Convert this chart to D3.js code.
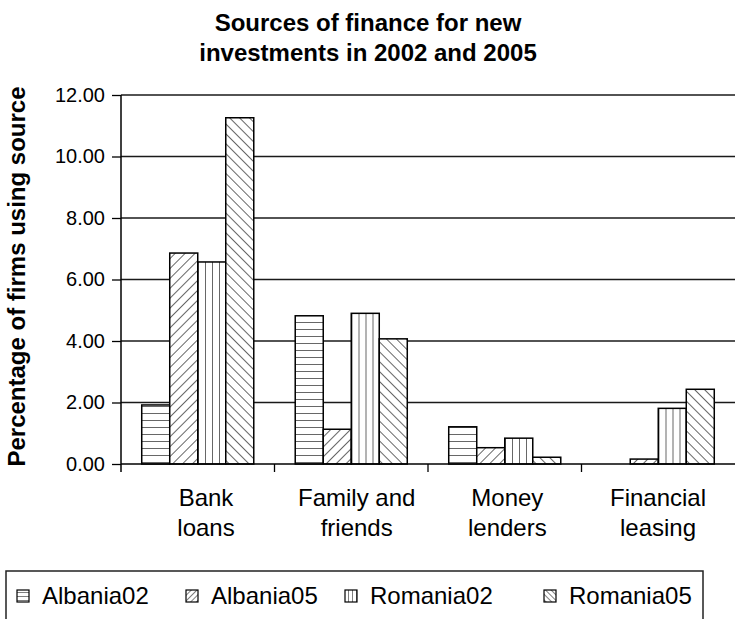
<!DOCTYPE html>
<html>
<head>
<meta charset="utf-8">
<script src="https://cdn.jsdelivr.net/npm/d3@7"></script>
<style>
  html, body { margin: 0; padding: 0; background: #fff; }
  svg { display: block; }
  text { font-family: "Liberation Sans", Arial, sans-serif; fill: #000; }
</style>
</head>
<body>
<div id="chart"></div>
<script>
// Share of firms using each source of finance (%)
const categories = [["Bank", "loans"], ["Family and", "friends"], ["Money", "lenders"], ["Financial", "leasing"]];
const seriesNames = ["Albania02", "Albania05", "Romania02", "Romania05"];
const albania02 = [1.92, 4.82, 1.21, 0.00];
const albania05 = [6.86, 1.13, 0.53, 0.16];
const romania02 = [6.57, 4.90, 0.84, 1.81];
const romania05 = [11.26, 4.07, 0.22, 2.43];
const yTicks = [0, 2, 4, 6, 8, 10, 12];

const seriesValues = [albania02, albania05, romania02, romania05];
const W = 735, H = 619;
const margin = { left: 121, right: 0, top: 95, bottom: 155 };
const plotBottom = H - margin.bottom; // 464

const svg = d3.select("#chart").append("svg").attr("width", W).attr("height", H);

// Hatch patterns, one per series (plus tighter ones for the legend keys)
const defs = svg.append("defs");
function hatch(id, angle, gap, sw) {
  const p = defs.append("pattern")
    .attr("id", id)
    .attr("patternUnits", "userSpaceOnUse")
    .attr("width", gap).attr("height", gap)
    .attr("patternTransform", `rotate(${angle})`);
  p.append("rect").attr("width", gap).attr("height", gap).attr("fill", "#fff");
  p.append("line").attr("x1", 0).attr("y1", 0).attr("x2", 0).attr("y2", gap)
    .attr("stroke", "#000").attr("stroke-width", sw);
}
const angles = [90, 45, 0, -45]; // horizontal, forward diagonal, vertical, backward diagonal
angles.forEach((a, i) => {
  hatch(`pat${i}`, a, 7, 1.2);
  hatch(`key${i}`, a, 4, 1);
});

const catKeys = categories.map(c => c.join(" "));
const x0 = d3.scaleBand().domain(catKeys).range([margin.left, W - margin.right]);
const x1 = d3.scaleBand().domain(seriesNames).range([0, x0.bandwidth()]).paddingInner(0).paddingOuter(0.74);
const y = d3.scaleLinear().domain([0, 12]).range([plotBottom, margin.top]);
// Wrapped category labels sit on a slightly narrower pitch than the bar groups
const xLabel = d3.scalePoint().domain(catKeys).range([206, 658]);

// Gridlines
svg.append("g").selectAll("line").data(yTicks.filter(d => d > 0)).join("line")
  .attr("x1", margin.left).attr("x2", W)
  .attr("y1", d => y(d)).attr("y2", d => y(d))
  .attr("stroke", "#1a1a1a").attr("stroke-width", 1.3);

// Y axis
const yAxis = d3.axisLeft(y).tickValues(yTicks).tickFormat(d3.format(".2f")).tickSize(9).tickPadding(7);
const gy = svg.append("g").attr("transform", `translate(${margin.left},0)`).call(yAxis);
gy.select(".domain").remove();
gy.selectAll(".tick line").attr("stroke", "#000").attr("stroke-width", 1.3);
gy.selectAll(".tick text").attr("font-size", 20).style("font-family", "Liberation Sans, Arial, sans-serif");
svg.append("line").attr("x1", margin.left).attr("x2", margin.left)
  .attr("y1", y(12)).attr("y2", plotBottom + 8)
  .attr("stroke", "#000").attr("stroke-width", 1.5);

// Bars
const groups = svg.append("g").selectAll("g").data(catKeys).join("g")
  .attr("transform", d => `translate(${x0(d)},0)`);
groups.selectAll("rect")
  .data((c, ci) => seriesNames.map((s, si) => ({ s, si, v: seriesValues[si][ci] })))
  .join("rect")
  .filter(d => d.v > 0)
  .attr("x", d => x1(d.s))
  .attr("width", x1.bandwidth())
  .attr("y", d => y(d.v))
  .attr("height", d => y(0) - y(d.v))
  .attr("fill", d => `url(#pat${d.si})`)
  .attr("stroke", "#000").attr("stroke-width", 1.5);

// X axis
const xAxisLine = svg.append("g");
xAxisLine.append("line").attr("x1", margin.left).attr("x2", W)
  .attr("y1", plotBottom).attr("y2", plotBottom)
  .attr("stroke", "#000").attr("stroke-width", 1.5);
xAxisLine.selectAll("line.tick").data(catKeys.slice(1)).join("line")
  .attr("class", "tick")
  .attr("x1", d => x0(d)).attr("x2", d => x0(d))
  .attr("y1", plotBottom).attr("y2", plotBottom + 8)
  .attr("stroke", "#000").attr("stroke-width", 1.3);

const catLabels = svg.append("g").selectAll("text").data(categories).join("text")
  .attr("x", (d, i) => xLabel(catKeys[i]))
  .attr("y", 506)
  .attr("text-anchor", "middle")
  .attr("font-size", 24);
catLabels.selectAll("tspan").data(d => d).join("tspan")
  .attr("x", function () { return d3.select(this.parentNode).attr("x"); })
  .attr("dy", (d, i) => i === 0 ? 0 : 30)
  .text(d => d);

// Title
svg.append("text").attr("x", 368).attr("y", 31).attr("text-anchor", "middle")
  .attr("font-size", 24).attr("font-weight", "bold")
  .selectAll("tspan").data(["Sources of finance for new", "investments in 2002 and 2005"]).join("tspan")
  .attr("x", 368).attr("dy", (d, i) => i === 0 ? 0 : 30).text(d => d);

// Y axis title
svg.append("text")
  .attr("transform", `translate(25,${(y(0) + y(12)) / 2 - 3}) rotate(-90)`)
  .attr("text-anchor", "middle")
  .attr("font-size", 24).attr("font-weight", "bold")
  .text("Percentage of firms using source");

// Legend
const legend = svg.append("g");
legend.append("rect").attr("x", 6).attr("y", 571).attr("width", 697).attr("height", 80)
  .attr("fill", "#fff").attr("stroke", "#222").attr("stroke-width", 1.5);
const swatchX = [17, 186, 345, 544];
const labelX = [42, 211, 370, 569];
const items = legend.selectAll("g.item").data(seriesNames).join("g")
  .attr("class", "item");
items.append("rect").attr("x", (d, i) => swatchX[i]).attr("y", 590).attr("width", 12).attr("height", 12)
  .attr("fill", (d, i) => `url(#key${i})`).attr("stroke", "#000").attr("stroke-width", 1.2);
items.append("text").attr("x", (d, i) => labelX[i]).attr("y", 604).attr("font-size", 24).text(d => d);
</script>
</body>
</html>
